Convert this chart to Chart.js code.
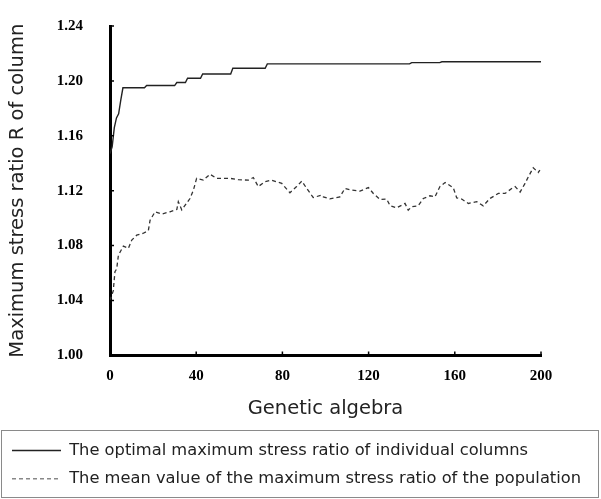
<!DOCTYPE html>
<html>
<head>
<meta charset="utf-8">
<script src="https://cdn.jsdelivr.net/npm/chart.js@4"></script>
<style>
  html, body { margin: 0; padding: 0; background: #fff; }
  #wrap { width: 601px; height: 499px; position: relative; }
</style>
</head>
<body>
<div id="wrap"><canvas id="gaChart"></canvas></div>
<script>
// generations and values
var optimalX = [0, 1, 2, 3, 4, 5, 6, 16, 17, 30, 31, 35, 36, 42, 43, 56, 57, 72, 73, 139, 140, 153, 154, 200];
var optimalR = [1.147, 1.152, 1.166, 1.173, 1.176, 1.186, 1.195, 1.195, 1.1966, 1.1966, 1.1988, 1.1988, 1.2019, 1.2019,
                1.205, 1.205, 1.2092, 1.2092, 1.2124, 1.2124, 1.2133, 1.2133, 1.2139, 1.2139];

var meanX = [0, 1.5, 2.3, 3.1, 3.9, 6.2, 8.5, 10.1, 12.4, 15.5, 17.8, 18.6, 20.9, 24, 27.8, 31, 31.7, 33.3, 37.1, 38.7,
             40.2, 43.3, 46.4, 49.5, 52.6, 55.7, 59.5, 64.2, 66.5, 68.8, 71.9, 75, 79.7, 83.5, 86.6, 89, 91.3, 94.3,
             98.2, 99, 102, 106.7, 109, 112.2, 116, 119.9, 122.2, 125.3, 128.4, 130, 133, 136.9, 138.4, 140, 143,
             145.4, 148.5, 150.8, 153.1, 155.5, 159.3, 160.9, 163.2, 166.3, 170.2, 173.2, 176.3, 180.2, 183.3,
             186.4, 188, 190.3, 192.6, 194.1, 196.4, 198.7, 199.5];
var meanR = [1.040, 1.047, 1.061, 1.063, 1.073, 1.0796, 1.078, 1.084, 1.0876, 1.089, 1.091, 1.0985, 1.1046, 1.103,
             1.1046, 1.1063, 1.112, 1.106, 1.1143, 1.1204, 1.129, 1.1277, 1.132, 1.129, 1.129, 1.129, 1.128, 1.1277,
             1.1296, 1.123, 1.1265, 1.1277, 1.1253, 1.1185, 1.123, 1.127, 1.1216, 1.115, 1.1168, 1.1155, 1.114,
             1.1155, 1.1216, 1.1204, 1.1197, 1.1223, 1.118, 1.1136, 1.1139, 1.109, 1.1075, 1.1107, 1.1058, 1.1083,
             1.109, 1.1143, 1.1163, 1.1155, 1.123, 1.126, 1.1221, 1.1148, 1.1139, 1.1107, 1.112, 1.109, 1.1143,
             1.118, 1.118, 1.1216, 1.123, 1.119, 1.1253, 1.130, 1.1367, 1.1333, 1.135];

var xTicks = [0, 40, 80, 120, 160, 200];
var yTicks = [1.00, 1.04, 1.08, 1.12, 1.16, 1.20, 1.24];

var seriesNames = [
    "The optimal maximum stress ratio of individual columns",
    "The mean value of the maximum stress ratio of the population"
];

function toPoints(xs, ys) {
    return xs.map(function (x, i) { return { x: x, y: ys[i] }; });
}

// little inward tick marks + box round the legend
var extras = {
    id: 'extras',
    afterDraw: function (chart) {
        var ctx = chart.ctx;
        var xs = chart.scales.x, ys = chart.scales.y;
        var area = chart.chartArea;
        ctx.save();
        ctx.strokeStyle = '#000';
        ctx.lineWidth = 1.5;
        ctx.beginPath();
        xTicks.forEach(function (v) {
            var px = xs.getPixelForValue(v);
            ctx.moveTo(px, area.bottom);
            ctx.lineTo(px, area.bottom - 4);
        });
        yTicks.forEach(function (v) {
            var py = ys.getPixelForValue(v);
            ctx.moveTo(area.left, py);
            ctx.lineTo(area.left + 4, py);
        });
        ctx.stroke();

        var hb = chart.legend.legendHitBoxes;
        if (hb && hb.length) {
            var top = hb[0].top - 12;
            var bottom = hb[hb.length - 1].top + hb[hb.length - 1].height + 10;
            ctx.strokeStyle = '#8a8a8a';
            ctx.lineWidth = 1;
            ctx.strokeRect(1.5, Math.round(top) + 0.5, chart.width - 4, Math.round(bottom - top));
        }
        ctx.restore();
    }
};

var textFont = "'DejaVu Sans', sans-serif";
var tickFont = "'Liberation Serif', serif";

new Chart(document.getElementById('gaChart'), {
    type: 'line',
    data: {
        datasets: [{
            label: seriesNames[0],
            data: toPoints(optimalX, optimalR),
            borderColor: '#222',
            borderWidth: 1.4,
            pointRadius: 0,
            tension: 0,
            fill: false
        }, {
            label: seriesNames[1],
            data: toPoints(meanX, meanR),
            borderColor: '#333',
            borderWidth: 1.3,
            borderDash: [4, 3],
            pointRadius: 0,
            tension: 0,
            fill: false
        }]
    },
    options: {
        responsive: true,
        maintainAspectRatio: false,
        animation: false,
        layout: { padding: { left: 0, right: 0, top: 26, bottom: 2 } },
        plugins: {
            tooltip: { enabled: false },
            legend: {
                position: 'bottom',
                align: 'start',
                labels: {
                    usePointStyle: true,
                    pointStyle: 'line',
                    pointStyleWidth: 49,
                    boxHeight: 16,
                    padding: 12,
                    color: '#222',
                    font: { family: textFont, size: 16.3 },
                    generateLabels: function (chart) {
                        var items = Chart.defaults.plugins.legend.labels.generateLabels(chart);
                        items.forEach(function (it) {
                            var ds = chart.data.datasets[it.datasetIndex];
                            it.lineDash = ds.borderDash || [];
                            it.lineWidth = 1.5;
                            if (ds.borderDash) it.strokeStyle = '#888';
                        });
                        return items;
                    }
                }
            }
        },
        scales: {
            x: {
                type: 'linear',
                min: 0,
                max: 200,
                afterBuildTicks: function (scale) {
                    scale.ticks = xTicks.map(function (v) { return { value: v }; });
                },
                afterFit: function (scale) { scale.height = 75; },
                grid: { display: false, drawTicks: false },
                border: { display: true, color: '#000', width: 3 },
                ticks: {
                    color: '#000',
                    padding: 12,
                    maxRotation: 0,
                    font: { family: tickFont, size: 15, weight: 'bold' }
                },
                title: {
                    display: true,
                    text: 'Genetic algebra',
                    color: '#222',
                    padding: { top: 4, bottom: 10 },
                    font: { family: textFont, size: 19.5 }
                }
            },
            y: {
                min: 1.00,
                max: 1.24,
                afterBuildTicks: function (scale) {
                    scale.ticks = yTicks.map(function (v) { return { value: v }; });
                },
                afterFit: function (scale) {
                    scale.width = 110;
                    // tick padding should not push the plot down
                    scale.paddingTop = 9;
                    scale.paddingBottom = 9;
                },
                grid: { display: false, drawTicks: false },
                border: { display: true, color: '#000', width: 3 },
                ticks: {
                    color: '#000',
                    padding: 27,
                    callback: function (v) { return Number(v).toFixed(2); },
                    font: { family: tickFont, size: 15, weight: 'bold' }
                },
                title: {
                    display: true,
                    text: 'Maximum stress ratio R of column',
                    color: '#222',
                    padding: { top: 6, bottom: 0 },
                    font: { family: textFont, size: 19.5 }
                }
            },
            // empty right-hand strip so the legend can use the full width
            spacer: {
                position: 'right',
                afterFit: function (scale) { scale.width = 60; },
                grid: { display: false, drawTicks: false },
                border: { display: false },
                ticks: { display: false }
            }
        }
    },
    plugins: [extras]
});
</script>
</body>
</html>
